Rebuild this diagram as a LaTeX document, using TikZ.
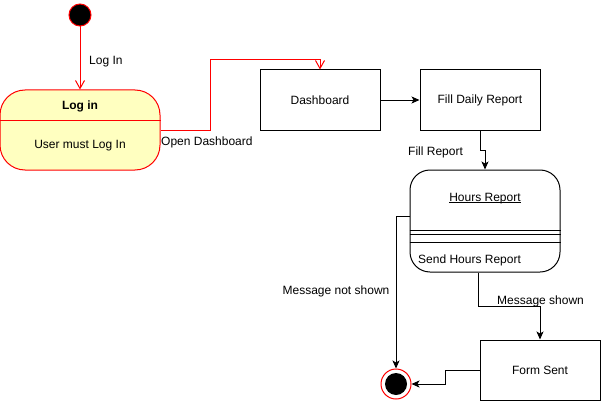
\documentclass[tikz,border=0pt]{standalone}
\usepackage{fontspec}
\setmainfont{Liberation Sans}
\usetikzlibrary{arrows.meta}

\definecolor{stateyellow}{HTML}{FFFFC0}

\tikzset{
  openarr/.style={draw=red, line width=1pt, -{Straight Barb[length=8pt,width=9pt]}},
  blackarr/.style={draw=black, line width=1pt, -{Stealth[length=8pt,width=7pt,inset=2pt]}},
  box/.style={draw, line width=1pt, minimum width=120pt, minimum height=60pt, inner sep=0pt},
}

\begin{document}
\begin{tikzpicture}[x=1pt,y=-1pt,font=\fontsize{12}{14}\selectfont]
 \useasboundingbox (0,0) rectangle (601,401);

 \node (start) at (80,15) [circle, draw=red, fill=black, line width=1pt, minimum size=22pt, inner sep=0pt] {}; % start
 \node (login) at (80,130) [draw=red, fill=stateyellow, line width=1pt, rounded corners=25pt, minimum width=160pt, minimum height=80pt] {}; % Log in state
 \draw [red, line width=1pt] (login.west |- 0,120) -- (login.east |- 0,120);
 \node (logintitle) at (80,106) {\textbf{Log in}};
 \node (loginbody) at (80,146) {User must Log In};

 \node (dash) at (320,100) [box] {Dashboard};
 \node (fill) at (480,100) [box] {Fill Daily Report};

 \node (hours) at (485,221) [draw, line width=1pt, rounded corners=20pt, minimum width=150pt, minimum height=102pt] {}; % Hours Report state
 \node (hourstitle) at (485,201) [anchor=base, inner sep=0pt] {Hours Report};
 \draw [line width=0.8pt] ([yshift=-1.8pt]hourstitle.base west) -- ([yshift=-1.8pt]hourstitle.base east); % underline
 \draw [line width=1pt] (hours.west |- 0,230) -- (hours.east |- 0,230);
 \draw [line width=1pt] (hours.west |- 0,234.5) -- (hours.east |- 0,234.5);
 \draw [line width=1pt] (hours.west |- 0,242) -- (hours.east |- 0,242);
 \node (hoursbody) at (418,260) [anchor=west, inner sep=0pt] {Send Hours Report};

 \node (form) at (540,370) [box] {Form Sent};

 \node (final) at (396,384) [circle, draw=red, fill=white, line width=1pt, minimum size=30pt, inner sep=0pt] {}; % end
 \node (finaldot) at (396,384) [circle, fill=black, minimum size=22pt, inner sep=0pt] {};

 \coordinate (B1) at (210,60); % corner of Open Dashboard

 \draw [openarr] (start) -- (login.north);
 \draw [openarr] (login.east) -| (B1) -| (dash.north);
 \draw [blackarr] (dash) -- (fill);
 \draw [blackarr] (fill.south) -- ++(0,20) -| (hours.north);
 \draw [blackarr] ([yshift=5pt]hours.west) -| (final.north);
 \draw [blackarr] ([xshift=-7pt]hours.south) -- ++(0,34) -| (form.north);
 \draw [blackarr] (form.west) -- ++(-34,0) |- (final.east);

 \node at (89,62) [anchor=west, inner sep=0pt] {Log In};
 \node at (161,142) [anchor=west, inner sep=0pt] {Open Dashboard};
 \node at (408,152) [anchor=west, inner sep=0pt] {Fill Report};
 \node at (336,291) {Message not shown};
 \node at (497,301) [anchor=west, inner sep=0pt] {Message shown};
\end{tikzpicture}
\end{document}
